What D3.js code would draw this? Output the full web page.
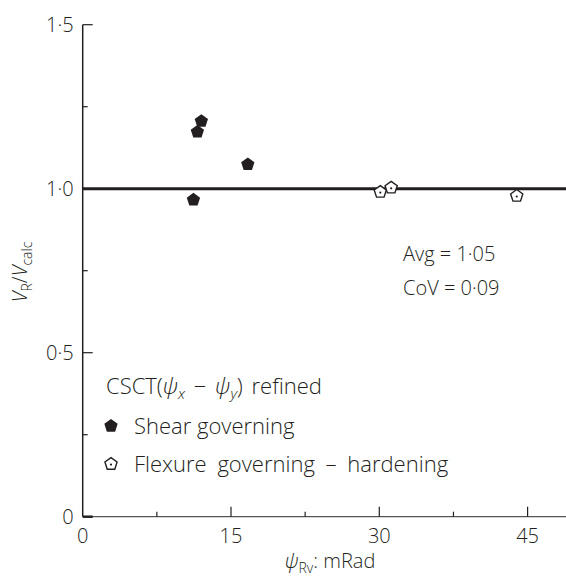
<!DOCTYPE html>
<html>
<head>
<meta charset="utf-8">
<script src="https://cdn.jsdelivr.net/npm/d3@7"></script>
<style>
  body { margin: 0; background: #fff; }
  svg text { font-family: "Open Sans", "Noto Sans", sans-serif; font-weight: 300; fill: #231f20; }
</style>
</head>
<body>
<div id="chart"></div>
<script>
// Data
const shearX = [11.2, 11.6, 12.0, 16.7];
const shearY = [0.966, 1.173, 1.206, 1.074];
const flexX = [30.1, 31.2, 43.9];
const flexY = [0.99, 1.003, 0.978];
const xTicks = [0, 15, 30, 45];
const xMinor = [7.5, 22.5, 37.5];
const yTicks = [0, 0.5, 1.0, 1.5];
const yMinor = [0.25, 0.75, 1.25];
const yTickLabels = ["0", "0·5", "1·0", "1·5"];

const width = 566, height = 576;
const ink = "#231f20";
const fs = "20px", sub = "14px", legendFs = "22px";

const svg = d3.select("#chart").append("svg")
  .attr("width", width)
  .attr("height", height);

// Scales
const x = d3.scaleLinear().domain([0, 15]).range([82.7, 231]);
const y = d3.scaleLinear().domain([0, 1.5]).range([516.7, 24.7]);

// Axes lines
svg.append("line")
  .attr("x1", x(0)).attr("x2", x(0))
  .attr("y1", y(1.5)).attr("y2", y(0))
  .attr("stroke", ink).attr("stroke-width", 1.5);
svg.append("line")
  .attr("x1", x(0)).attr("x2", width)
  .attr("y1", y(0)).attr("y2", y(0))
  .attr("stroke", "#555").attr("stroke-width", 1.3);

// Y ticks (inward)
svg.selectAll(".ytick").data(yTicks).enter().append("line")
  .attr("x1", x(0)).attr("x2", x(0) + 10)
  .attr("y1", d => y(d)).attr("y2", d => y(d))
  .attr("stroke", ink).attr("stroke-width", d => d === 0 ? 2.5 : 1.2);
svg.selectAll(".yminor").data(yMinor).enter().append("line")
  .attr("x1", x(0)).attr("x2", x(0) + 5)
  .attr("y1", d => y(d)).attr("y2", d => y(d))
  .attr("stroke", ink).attr("stroke-width", 1.2);
svg.selectAll(".ylab").data(yTicks).enter().append("text")
  .attr("x", x(0) - 9)
  .attr("y", d => y(d))
  .attr("dy", "0.35em")
  .attr("text-anchor", "end")
  .style("font-size", fs)
  .text((d, i) => yTickLabels[i]);

// X ticks (inward)
svg.selectAll(".xtick").data(xTicks.filter(d => d > 0)).enter().append("line")
  .attr("x1", d => x(d)).attr("x2", d => x(d))
  .attr("y1", y(0)).attr("y2", y(0) - 10)
  .attr("stroke", ink).attr("stroke-width", 1.2);
svg.selectAll(".xminor").data(xMinor).enter().append("line")
  .attr("x1", d => x(d)).attr("x2", d => x(d))
  .attr("y1", y(0)).attr("y2", y(0) - 5)
  .attr("stroke", ink).attr("stroke-width", 1.2);
svg.selectAll(".xlab").data(xTicks).enter().append("text")
  .attr("x", d => x(d))
  .attr("y", y(0) + 26)
  .attr("text-anchor", "middle")
  .style("font-size", fs)
  .text(d => d);

// Reference line at 1.0
svg.append("line")
  .attr("x1", x(0)).attr("x2", width)
  .attr("y1", y(1)).attr("y2", y(1))
  .attr("stroke", ink).attr("stroke-width", 3);

// Pentagon symbol
const pentagon = {
  draw(context, size) {
    const r = Math.sqrt(size / 2.378);
    for (let i = 0; i < 5; i++) {
      const a = -Math.PI / 2 + i * 2 * Math.PI / 5;
      const px = r * Math.cos(a), py = r * Math.sin(a);
      if (i === 0) context.moveTo(px, py); else context.lineTo(px, py);
    }
    context.closePath();
  }
};
const filledSym = d3.symbol().type(pentagon).size(2.378 * 7 * 7);
const openSym = d3.symbol().type(pentagon).size(2.378 * 6.4 * 6.4);

function drawOpen(g) {
  g.append("path").attr("d", openSym)
    .attr("fill", "#fff").attr("stroke", ink).attr("stroke-width", 1.4);
  g.append("circle").attr("r", 1.1).attr("cy", 0.6).attr("fill", ink);
}

// Shear governing points
svg.selectAll(".shear").data(shearX).enter().append("path")
  .attr("d", filledSym)
  .attr("transform", (d, i) => `translate(${x(d)},${y(shearY[i])})`)
  .attr("fill", ink);

// Flexure governing points
svg.selectAll(".flex").data(flexX).enter().append("g")
  .attr("transform", (d, i) => `translate(${x(d)},${y(flexY[i])})`)
  .each(function() { drawOpen(d3.select(this)); });

// Stats text
svg.append("text").attr("x", 403).attr("y", 261)
  .style("font-size", fs).text("Avg = 1·05");
svg.append("text").attr("x", 403).attr("y", 295)
  .style("font-size", fs).text("CoV = 0·09");

// Legend
const title = svg.append("text").attr("x", 106).attr("y", 394)
  .style("font-size", legendFs).style("word-spacing", "3px");
title.append("tspan").text("CSCT(");
title.append("tspan").style("font-style", "italic").text("ψ");
title.append("tspan").style("font-style", "italic").style("font-size", "15px").attr("dy", 5).text("x");
title.append("tspan").attr("dy", -5).text(" − ");
title.append("tspan").style("font-style", "italic").text("ψ");
title.append("tspan").style("font-style", "italic").style("font-size", "15px").attr("dy", 5).text("y");
title.append("tspan").attr("dy", -5).text(") refined");

svg.append("path").attr("d", filledSym)
  .attr("transform", "translate(111,426)").attr("fill", ink);
svg.append("text").attr("x", 134).attr("y", 434)
  .style("font-size", legendFs).text("Shear governing");

drawOpen(svg.append("g").attr("transform", "translate(111,464)"));
svg.append("text").attr("x", 134).attr("y", 472)
  .style("font-size", legendFs).style("word-spacing", "5px").text("Flexure governing – hardening");

// Axis titles
const xt = svg.append("text").attr("x", 330).attr("y", 568)
  .attr("text-anchor", "middle").style("font-size", fs);
xt.append("tspan").style("font-style", "italic").text("ψ");
xt.append("tspan").style("font-size", sub).attr("dy", 5).text("Rv");
xt.append("tspan").attr("dy", -5).text(": mRad");

const yt = svg.append("text")
  .attr("transform", "translate(27,272) rotate(-90)")
  .attr("text-anchor", "middle").style("font-size", fs);
yt.append("tspan").style("font-style", "italic").text("V");
yt.append("tspan").style("font-size", sub).attr("dy", 5).text("R");
yt.append("tspan").attr("dy", -5).text("/");
yt.append("tspan").style("font-style", "italic").text("V");
yt.append("tspan").style("font-size", sub).attr("dy", 5).text("calc");
</script>
</body>
</html>
